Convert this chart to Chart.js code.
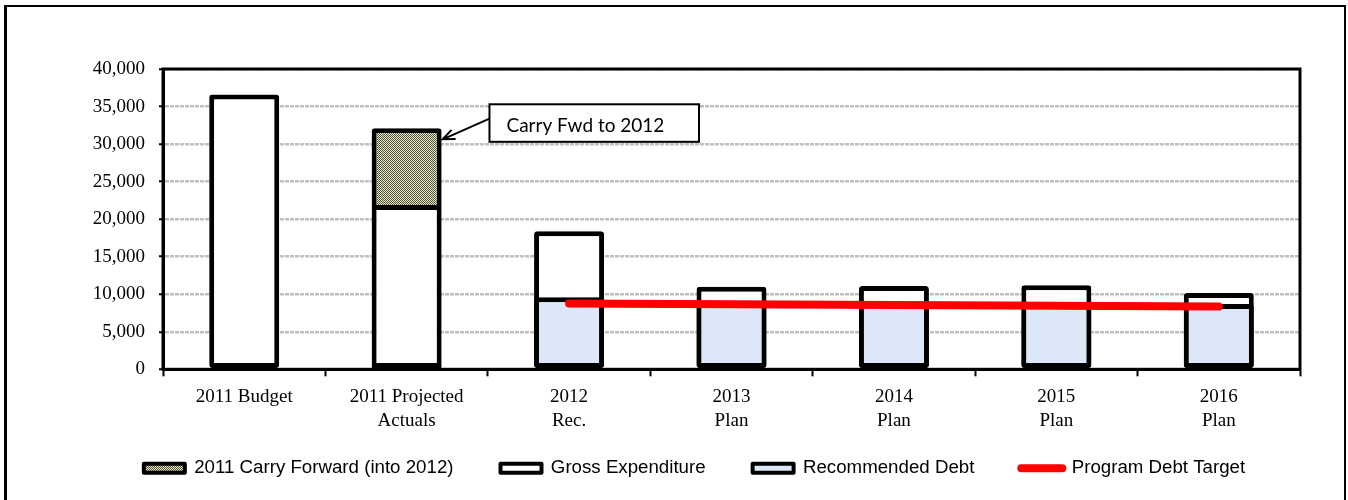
<!DOCTYPE html>
<html>
<head>
<meta charset="utf-8">
<title>Capital Budget and Debt</title>
<script src="https://cdn.jsdelivr.net/npm/chart.js@4.4.1/dist/chart.umd.min.js"></script>
<style>
html,body{margin:0;padding:0;background:#fff;}
#wrap{position:relative;width:1348px;height:500px;}
#frame{position:absolute;left:4px;top:5px;width:1342px;height:500px;box-sizing:border-box;border-left:3px solid #000;border-top:2px solid #000;border-right:2px solid #000;pointer-events:none;}
</style>
</head>
<body>
<div id="wrap">
<canvas id="capChart"></canvas>
<div id="frame"></div>
</div>
<script>
const categories=[["2011 Budget"],["2011 Projected","Actuals"],["2012","Rec."],["2013","Plan"],["2014","Plan"],["2015","Plan"],["2016","Plan"]];
const yTickValues=[0,5000,10000,15000,20000,25000,30000,35000,40000];

const grossExpenditure=[36600,21900,18400,11000,11100,11200,10150];
const carryForward=[null,10200,null,null,null,null,null];
const recommendedDebt=[null,null,9600,8900,8900,8900,8700];
const debtTarget=[null,null,8750,8650,8550,8450,8350];

const seriesNames=["Recommended Debt","Gross Expenditure","2011 Carry Forward (into 2012)","Program Debt Target"];
const legendRank=[2,1,0,3];

const calloutText="Carry Fwd to 2012";

const canvas=document.getElementById("capChart");
const ctx=canvas.getContext("2d");

function checker(dark,light){
const c=document.createElement("canvas");
c.width=2;c.height=2;
const g=c.getContext("2d");
g.fillStyle=light;g.fillRect(0,0,2,2);
g.fillStyle=dark;g.fillRect(0,0,1,1);g.fillRect(1,1,1,1);
return ctx.createPattern(c,"repeat");
}

const carryFill=checker("#55553b","#e4e4c9");
const debtFill="#dce8f7";

Chart.defaults.font.family="'Liberation Serif', 'Times New Roman', serif";
Chart.defaults.font.size=19;
Chart.defaults.color="#000";

const plotFrame={
id:"plotFrame",
afterLayout(chart){
// let the two-line category labels run below the squeezed axis box
chart.scales.x.bottom=chart.height;
},
beforeDatasetsDraw(chart){
const a=chart.chartArea;
const c=chart.ctx;
c.save();
c.strokeStyle="#000";
c.lineWidth=3;
c.strokeRect(a.left,a.top,a.right-a.left,a.bottom-a.top);
c.restore();
}
};

const callout={
id:"callout",
afterDatasetsDraw(chart){
const x=chart.scales.x,y=chart.scales.y,c=chart.ctx;
const bar=chart.getDatasetMeta(2).data[1];
const left=x.getPixelForValue(1.51),right=x.getPixelForValue(2.8);
const top=y.getPixelForValue(35300),bottom=y.getPixelForValue(30300);
c.save();
c.fillStyle="#fff";
c.fillRect(left,top,right-left,bottom-top);
c.strokeStyle="#000";
c.lineWidth=2;
c.strokeRect(left,top,right-left,bottom-top);
c.fillStyle="#000";
c.font="19px Lato, 'Open Sans', sans-serif";
c.textBaseline="alphabetic";
c.textAlign="left";
c.fillText(calloutText,left+17,bottom-10);
// arrow to the carry forward bar
const sx=left,sy=y.getPixelForValue(33400);
const tx=bar.x+bar.width/2+1,ty=bar.y+11;
const ang=Math.atan2(ty-sy,tx-sx);
c.lineWidth=2;
c.beginPath();
c.moveTo(sx,sy);c.lineTo(tx,ty);
c.moveTo(tx-13*Math.cos(ang-0.4),ty-13*Math.sin(ang-0.4));
c.lineTo(tx,ty);
c.lineTo(tx-13*Math.cos(ang+0.4),ty-13*Math.sin(ang+0.4));
c.stroke();
c.restore();
}
};

const barBase={borderColor:"#000",borderWidth:5,borderRadius:3,grouped:false,barPercentage:0.431,categoryPercentage:1};

new Chart(canvas,{
type:"bar",
data:{
labels:categories,
datasets:[
Object.assign({label:seriesNames[0],data:recommendedDebt,backgroundColor:debtFill,borderSkipped:false,stack:"debt"},barBase),
Object.assign({label:seriesNames[1],data:grossExpenditure,backgroundColor:"#fff",borderSkipped:false,stack:"gross"},barBase),
Object.assign({label:seriesNames[2],data:carryForward,backgroundColor:carryFill,borderSkipped:"bottom",stack:"gross"},barBase),
{type:"line",label:seriesNames[3],data:debtTarget,borderColor:"#ff0000",backgroundColor:"#ff0000",borderWidth:8,borderCapStyle:"round",pointRadius:0,pointHoverRadius:0,fill:false,tension:0,stack:"target",order:-1}
]
},
options:{
responsive:true,
maintainAspectRatio:false,
animation:false,
layout:{padding:{left:89,right:48,top:69,bottom:12.5}},
scales:{
x:{
stacked:true,
afterFit(s){s.height=42.5;},
grid:{display:true,drawOnChartArea:false,offset:true,tickLength:7,tickColor:"#000",tickWidth:2},
border:{display:true,color:"#000",width:3},
ticks:{padding:8,maxRotation:0,autoSkip:false,font:{size:19,lineHeight:1.3}}
},
y:{
stacked:true,
min:0,
max:40000,
afterFit(s){s.width=74;},
afterBuildTicks(s){s.ticks=yTickValues.map(v=>({value:v}));},
grid:{color:"#bfbfbf",lineWidth:2.5,tickLength:4,tickColor:"#000",tickWidth:2},
border:{display:true,color:"#000",width:3,dash:[4,1]},
ticks:{padding:14,callback:v=>Number(v).toLocaleString("en-US")}
}
},
plugins:{
tooltip:{enabled:false},
legend:{
position:"bottom",
labels:{
usePointStyle:true,
pointStyleWidth:41,
boxHeight:9,
padding:47,
color:"#000",
font:{family:"'Liberation Sans', Arial, sans-serif",size:18.7},
sort:(a,b)=>legendRank[a.datasetIndex]-legendRank[b.datasetIndex],
generateLabels(chart){
const items=Chart.defaults.plugins.legend.labels.generateLabels(chart);
items.forEach(it=>{
if(it.datasetIndex===3){
it.pointStyle="line";it.strokeStyle="#ff0000";it.lineWidth=8;it.lineCap="round";
}else{
it.pointStyle="rect";it.strokeStyle="#000";it.lineWidth=4;it.lineJoin="round";
}
});
return items;
}
}
}
}
},
plugins:[plotFrame,callout]
});
</script>
</body>
</html>
